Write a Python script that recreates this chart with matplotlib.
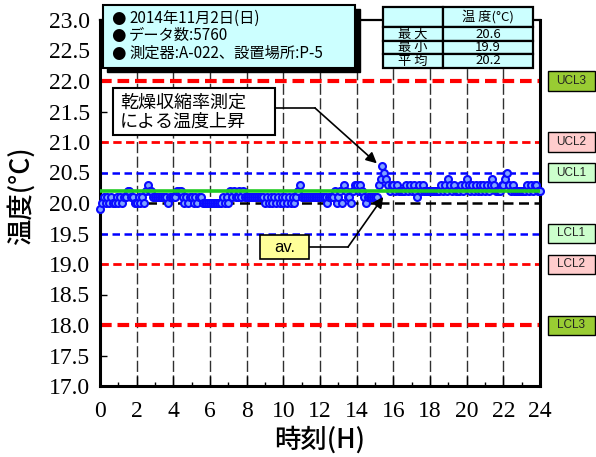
import numpy as np
import matplotlib
matplotlib.use("Agg")
import matplotlib.pyplot as plt
from matplotlib.patches import Rectangle
from matplotlib.lines import Line2D

# Temperature log, one reading code per 0.1 h (code k -> 19.9 + 0.1*k degC)
hourly_codes = [
    "0121212112", "1212233221", "1212134332", "2222222122",
    "2233321212", "2121221111", "1111111212", "1323223232",
    "2222222222", "1212121212", "1212121234", "2222222222",
    "2222122231", "2314322134", "4343212222", "2245765434",
    "4343333434", "3432434333", "3333334343", "5434333434",
    "5434343434", "3434543334", "4564343333", "3334343443",
    "3",
]
base_temp = 19.9
code_step = 0.1
sample_step_h = 0.1

codes = [int(c) for c in "".join(hourly_codes)]
hours = np.arange(len(codes)) * sample_step_h
temps = base_temp + code_step * np.array(codes)

# Summary figures
stat_names = ["最大", "最小", "平均"]
stat_values = [20.6, 19.9, 20.2]
avg_temp = stat_values[2]

# Control limits
ucl = {"UCL3": 22.0, "UCL2": 21.0, "UCL1": 20.5}
lcl = {"LCL1": 19.5, "LCL2": 19.0, "LCL3": 18.0}
target = 20.0

info_lines = ["2014年11月2日(日)", "データ数:5760", "測定器:A-022、設置場所:P-5"]

W, H = 596, 457
fig = plt.figure(figsize=(W / 100, H / 100), dpi=100)
fig.patch.set_facecolor("white")


def fx(px):
    return px / W


def fy(py):
    return 1 - py / H


ax = fig.add_axes([fx(100), fy(386), fx(540) - fx(100), fy(20) - fy(386)])
ax.set_xlim(0, 24)
ax.set_ylim(17.0, 23.0)

# vertical grid
for h in range(2, 24, 2):
    ax.axvline(h, color="#303030", lw=1.0, dashes=(8, 2.5), zorder=1)

# control lines
ax.axhline(ucl["UCL3"], color="#ff0000", lw=3.0, dashes=(2.8, 1.4), zorder=2)
ax.axhline(lcl["LCL3"], color="#ff0000", lw=3.0, dashes=(2.8, 1.4), zorder=2)
ax.axhline(ucl["UCL2"], color="#ff0000", lw=2.0, dashes=(3, 1.6), zorder=2)
ax.axhline(lcl["LCL2"], color="#ff0000", lw=2.0, dashes=(3, 1.6), zorder=2)
ax.axhline(ucl["UCL1"], color="#0000ff", lw=1.8, dashes=(3, 1.8), zorder=2)
ax.axhline(lcl["LCL1"], color="#0000ff", lw=1.8, dashes=(3, 1.8), zorder=2)
ax.axhline(target, color="#000000", lw=1.8, dashes=(4, 2.2), zorder=2)

ax.plot(hours, temps, "o", ms=5.0, mfc="#7fa4ff", mec="#0a0aff", mew=1.5,
        zorder=3, clip_on=False)

ax.axhline(avg_temp, color="#22cc22", lw=2.6, zorder=4)

# axes styling
for side in ["left", "right", "bottom"]:
    ax.spines[side].set_linewidth(2.2)
ax.spines["top"].set_linewidth(1.6)
ax.set_xticks(range(0, 25, 2))
ax.set_xticks(range(1, 24, 2), minor=True)
ax.set_yticks(np.arange(17.0, 23.01, 0.5))
ax.set_yticklabels([f"{v:.1f}" for v in np.arange(17.0, 23.01, 0.5)])
ax.tick_params(axis="x", which="major", direction="in", length=7, width=1, pad=11)
ax.tick_params(axis="x", which="minor", direction="in", length=3, width=1)
ax.tick_params(axis="y", which="major", direction="in", length=5, width=1, pad=7)
for lab in ax.get_xticklabels() + ax.get_yticklabels():
    lab.set_fontfamily("Liberation Serif")
    lab.set_fontsize(17)

cjk = ["Noto Sans CJK JP", "DejaVu Sans"]
fig.text(fx(21), fy(196), "温度(°C)", rotation=90, ha="center", va="center",
         fontsize=19, family=cjk, fontweight="medium")
fig.text(fx(320), fy(440), "時刻(H)", ha="center", va="center",
         fontsize=19, family=cjk, fontweight="medium")

# info box with shadow
fig.patches.append(Rectangle((fx(107), fy(72)), fx(360) - fx(107), fy(9) - fy(72),
                             transform=fig.transFigure, facecolor="black",
                             edgecolor="black", zorder=5))
fig.patches.append(Rectangle((fx(103), fy(68)), fx(355) - fx(103), fy(5) - fy(68),
                             transform=fig.transFigure, facecolor="#ccffff",
                             edgecolor="black", lw=1.5, zorder=6))
for i, line in enumerate(info_lines):
    y = 18 + i * 17.5
    fig.text(fx(111), fy(y), "●", ha="left", va="center", fontsize=12,
             family=["DejaVu Sans"], zorder=7)
    fig.text(fx(129), fy(y), line, ha="left", va="center", fontsize=11,
             family=cjk, zorder=7)

# statistics table
col_x = [383, 443, 533]
row_y = [7, 27, 41, 54, 68]
for r in range(4):
    for c in range(2):
        fig.patches.append(Rectangle((fx(col_x[c]), fy(row_y[r + 1])),
                                     fx(col_x[c + 1]) - fx(col_x[c]),
                                     fy(row_y[r]) - fy(row_y[r + 1]),
                                     transform=fig.transFigure,
                                     facecolor="#ccffff", edgecolor="black",
                                     lw=1.6, zorder=6))
fig.text(fx((col_x[1] + col_x[2]) / 2), fy((row_y[0] + row_y[1]) / 2),
         "温 度(°C)", ha="center", va="center", fontsize=9.5, family=cjk, zorder=7)
for i, (name, val) in enumerate(zip(stat_names, stat_values)):
    yc = fy((row_y[i + 1] + row_y[i + 2]) / 2)
    fig.text(fx((col_x[0] + col_x[1]) / 2), yc, " ".join(name), ha="center",
             va="center", fontsize=9.5, family=cjk, zorder=7)
    fig.text(fx((col_x[1] + col_x[2]) / 2), yc, f"{val:.1f}", ha="center",
             va="center", fontsize=9.5, family=cjk, zorder=7)

# limit labels on the right
limit_boxes = [("UCL3", ucl["UCL3"], "#99cc33"), ("UCL2", ucl["UCL2"], "#ffcccc"),
               ("UCL1", ucl["UCL1"], "#ccffcc"), ("LCL1", lcl["LCL1"], "#ccffcc"),
               ("LCL2", lcl["LCL2"], "#ffcccc"), ("LCL3", lcl["LCL3"], "#99cc33")]
for name, val, col in limit_boxes:
    yc = ax.transData.transform((0, val))[1]
    fig.patches.append(Rectangle((fx(548), (yc - 9.5) / H), fx(595) - fx(548), 19 / H,
                                 transform=fig.transFigure, facecolor=col,
                                 edgecolor="black", lw=1.0, zorder=6))
    fig.text(fx(571), yc / H, name, ha="center", va="center", fontsize=8.5,
             family="Liberation Sans", color="#222222", zorder=7)

# annotation: temperature rise
fig.patches.append(Rectangle((fx(113), fy(135)), fx(275) - fx(113), fy(88) - fy(135),
                             transform=fig.transFigure, facecolor="white",
                             edgecolor="black", lw=1.5, zorder=6))
fig.text(fx(120), fy(103), "乾燥収縮率測定", ha="left", va="center", fontsize=13,
         family=cjk, zorder=7)
fig.text(fx(120), fy(122), "による温度上昇", ha="left", va="center", fontsize=13,
         family=cjk, zorder=7)
fig.lines.append(Line2D([fx(275), fx(315)], [fy(108), fy(108)],
                        transform=fig.transFigure, color="black", lw=1.2, zorder=6))
ax.annotate("", xy=(15.1, 20.65), xycoords="data",
            xytext=(315, H - 108), textcoords="figure pixels",
            arrowprops=dict(arrowstyle="-|>", color="black", lw=1.2,
                            mutation_scale=16, shrinkA=0, shrinkB=0),
            annotation_clip=False, zorder=6)

# annotation: average
fig.patches.append(Rectangle((fx(260), fy(259)), fx(309) - fx(260), fy(235) - fy(259),
                             transform=fig.transFigure, facecolor="#ffff99",
                             edgecolor="black", lw=1.2, zorder=6))
fig.text(fx(284.5), fy(247), "av.", ha="center", va="center", fontsize=12,
         family="Liberation Sans", zorder=7)
fig.lines.append(Line2D([fx(309), fx(348)], [fy(247), fy(247)],
                        transform=fig.transFigure, color="black", lw=1.2, zorder=6))
ax.annotate("", xy=(15.45, 20.1), xycoords="data",
            xytext=(348, H - 247), textcoords="figure pixels",
            arrowprops=dict(arrowstyle="-|>", color="black", lw=1.2,
                            mutation_scale=16, shrinkA=0, shrinkB=0),
            annotation_clip=False, zorder=6)

fig.savefig("out.png", dpi=100)
